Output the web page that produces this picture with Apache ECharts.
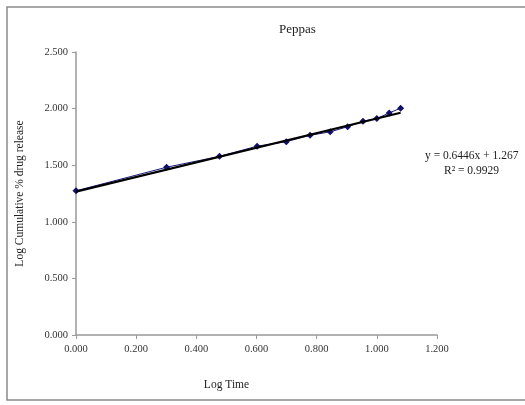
<!DOCTYPE html>
<html>
<head>
<meta charset="utf-8">
<script src="https://cdn.jsdelivr.net/npm/echarts@6/dist/echarts.min.js"></script>
<style>
  html, body { margin: 0; padding: 0; background: #fff; }
  #chart { width: 525px; height: 405px; }
</style>
</head>
<body>
<div id="chart"></div>
<script>
// log time vs log cumulative % drug release
var logTime = [0.000, 0.301, 0.477, 0.602, 0.699, 0.778, 0.845, 0.903, 0.954, 1.000, 1.041, 1.079];
var logRelease = [1.274, 1.482, 1.578, 1.668, 1.708, 1.764, 1.795, 1.840, 1.888, 1.912, 1.962, 2.003];
// excel linear trendline, drawn over the data range
var trendX = [0.000, 1.079];
var trendY = [1.267, 1.963];
var trendText = ['y = 0.6446x + 1.267', 'R\u00b2 = 0.9929'];

var serif = '"Liberation Serif", "DejaVu Serif", serif';

function pairs(xs, ys){
  var out = [];
  for (var i = 0; i < xs.length; i++)
    out.push([xs[i], ys[i]]);
  return out;
}

var myChart = echarts.init(document.getElementById('chart'));
var option = {
  animation: false,
  backgroundColor: '#fff',
  title: {
    text: 'Peppas',
    left: 274,
    top: 18,
    textStyle: { fontFamily: serif, fontSize: 13, fontWeight: 'normal', color: '#222' }
  },
  grid: { left: 76, right: 88, top: 52, bottom: 70 },
  xAxis: {
    type: 'value',
    min: 0, max: 1.2, interval: 0.2,
    name: 'Log Time',
    nameLocation: 'middle',
    nameGap: 44,
    nameTextStyle: { fontFamily: serif, fontSize: 11.5, color: '#222', padding: [0, 60, 0, 0] },
    axisLine: { lineStyle: { color: '#999', width: 1.5 } },
    axisTick: { show: true, length: 4, lineStyle: { color: '#999' } },
    axisLabel: {
      fontFamily: serif, fontSize: 10.5, color: '#333', margin: 9,
      formatter: function(v){ return v.toFixed(3); }
    },
    splitLine: { show: false }
  },
  yAxis: {
    type: 'value',
    min: 0, max: 2.5, interval: 0.5,
    name: 'Log Cumulative % drug release',
    nameLocation: 'middle',
    nameGap: 50,
    nameTextStyle: { fontFamily: serif, fontSize: 11.5, color: '#222' },
    axisLine: { show: true, lineStyle: { color: '#999', width: 1.5 } },
    axisTick: { show: true, length: 4, lineStyle: { color: '#999' } },
    axisLabel: {
      fontFamily: serif, fontSize: 10.5, color: '#333', margin: 8,
      formatter: function(v){ return v.toFixed(3); }
    },
    splitLine: { show: false }
  },
  graphic: [
    {
      type: 'rect',
      shape: { x: 7, y: 7, width: 530, height: 393 },
      style: { fill: 'none', stroke: '#8a8a8a', lineWidth: 1.5 },
      silent: true
    },
    {
      type: 'text',
      left: 425, top: 150,
      style: { text: trendText[0], font: '11.5px ' + serif, fill: '#222' }
    },
    {
      type: 'text',
      left: 444, top: 165,
      style: { text: trendText[1], font: '11.5px ' + serif, fill: '#222' }
    }
  ],
  series: [
    {
      name: 'data',
      type: 'line',
      data: pairs(logTime, logRelease),
      symbol: 'diamond',
      symbolSize: 7,
      lineStyle: { color: '#1a1a80', width: 1 },
      itemStyle: { color: '#10106a' },
      z: 2
    },
    {
      name: 'trend',
      type: 'line',
      data: pairs(trendX, trendY),
      symbol: 'none',
      lineStyle: { color: '#000', width: 2.2 },
      z: 3
    }
  ]
};
myChart.setOption(option);
</script>
</body>
</html>
